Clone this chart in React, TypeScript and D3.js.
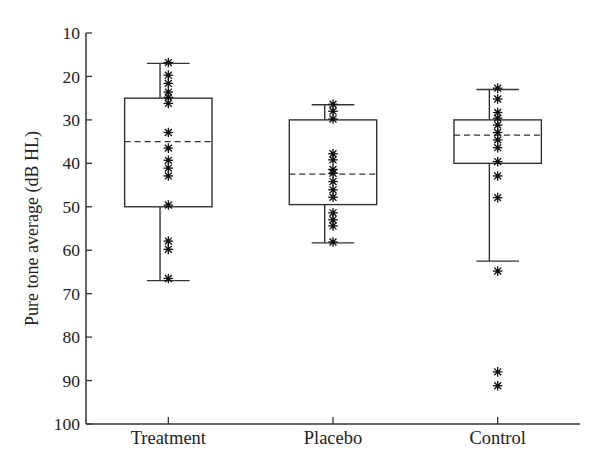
import React from "react";
import * as d3 from "d3";

const categories = ["Treatment", "Placebo", "Control"];
const whiskerLow = [17, 26.5, 23];
const q1 = [25, 30, 30];
const centerLine = [35, 42.5, 33.5];
const q3 = [50, 49.5, 40];
const whiskerHigh = [67, 58.3, 62.5];
const treatmentPts = [16.8, 19.7, 21.6, 23.6, 24.8, 26.2, 32.9, 36.5, 39.3, 41.1, 42.9, 49.6, 57.9, 59.8, 66.5];
const placeboPts = [26.4, 28, 29.8, 37.8, 39.2, 41.4, 42.3, 44.2, 46.1, 47.8, 51.4, 53, 54.4, 58.1];
const controlPts = [22.7, 25.2, 28.3, 29.6, 31.2, 32.9, 34.6, 36.4, 39.6, 42.9, 47.9, 64.8, 88, 91.2];
const points = [treatmentPts, placeboPts, controlPts];
const yTicks = [10, 20, 30, 40, 50, 60, 70, 80, 90, 100];

const W = 600, H = 472;
const left = 86, right = 580, top = 33, bottom = 424;
const col = "#333";
const font = "'Liberation Serif', 'Times New Roman', serif";

function Star({ x, y }: { x: number; y: number }) {
  const r = 4.8;
  const d = r * 0.72;
  return (
    <g stroke="#111" strokeWidth={1.3}>
      <line x1={x - r} y1={y} x2={x + r} y2={y} />
      <line x1={x} y1={y - r} x2={x} y2={y + r} />
      <line x1={x - d} y1={y - d} x2={x + d} y2={y + d} />
      <line x1={x - d} y1={y + d} x2={x + d} y2={y - d} />
      <circle cx={x} cy={y} r={2} fill="#111" stroke="none" />
    </g>
  );
}

export default function App() {
  const y = d3.scaleLinear().domain([10, 100]).range([top, bottom]);
  const x = d3.scaleLinear().domain([0.5, 3.5]).range([left, right]);
  const boxHalf = 43.7;
  const capHalf = 21.3;
  const whiskerOffset = -8.3;
  return (
    <svg width={W} height={H} style={{ position: "absolute", left: 0, top: 0 }}>
      <rect width={W} height={H} fill="#fff" />
      <line x1={left} y1={top} x2={left} y2={bottom} stroke={col} strokeWidth={1.5} />
      <line x1={left} y1={bottom} x2={right} y2={bottom} stroke={col} strokeWidth={1.5} />
      {yTicks.map((t) => (
        <g key={t}>
          <line x1={left} x2={left + 6} y1={y(t)} y2={y(t)} stroke={col} strokeWidth={1.3} />
          <text x={left - 6} y={y(t)} dy="0.35em" textAnchor="end" fontFamily={font} fontSize={17.5} fill="#222">
            {t}
          </text>
        </g>
      ))}
      {categories.map((c, i) => (
        <g key={c}>
          <line x1={x(i + 1)} x2={x(i + 1)} y1={bottom} y2={bottom - 7} stroke={col} strokeWidth={1.3} />
          <text x={x(i + 1)} y={bottom + 20} textAnchor="middle" fontFamily={font} fontSize={18.5} fill="#222">
            {c}
          </text>
        </g>
      ))}
      <text
        transform={`translate(38, ${(top + bottom) / 2}) rotate(-90)`}
        textAnchor="middle"
        fontFamily={font}
        fontSize={18}
        fill="#222"
      >
        Pure tone average (dB HL)
      </text>
      {categories.map((c, i) => {
        const cx = x(i + 1);
        const wx = cx + whiskerOffset;
        return (
          <g key={c} stroke={col} strokeWidth={1.4} fill="none">
            <line x1={wx} x2={wx} y1={y(whiskerLow[i])} y2={y(q1[i])} />
            <line x1={wx} x2={wx} y1={y(q3[i])} y2={y(whiskerHigh[i])} />
            <line x1={cx - capHalf} x2={cx + capHalf} y1={y(whiskerLow[i])} y2={y(whiskerLow[i])} />
            <line x1={cx - capHalf} x2={cx + capHalf} y1={y(whiskerHigh[i])} y2={y(whiskerHigh[i])} />
            <rect x={cx - boxHalf} y={y(q1[i])} width={boxHalf * 2} height={y(q3[i]) - y(q1[i])} fill="#fff" />
            <line
              x1={cx - boxHalf}
              x2={cx + boxHalf}
              y1={y(centerLine[i])}
              y2={y(centerLine[i])}
              strokeDasharray="6,4"
              strokeWidth={1.3}
            />
          </g>
        );
      })}
      {points.map((pts, i) =>
        pts.map((v, j) => <Star key={`${i}-${j}`} x={x(i + 1)} y={y(v)} />)
      )}
    </svg>
  );
}
